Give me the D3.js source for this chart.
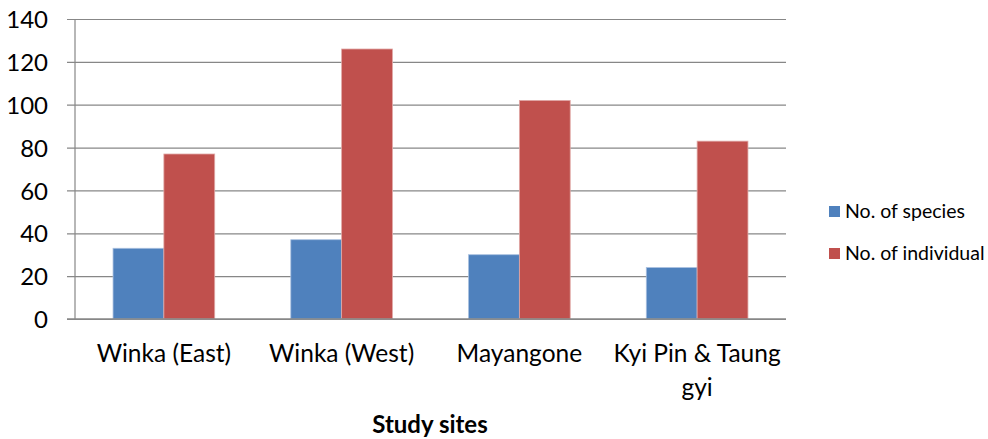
<!DOCTYPE html>
<html>
<head>
<meta charset="utf-8">
<script src="https://cdn.jsdelivr.net/npm/d3@7"></script>
<style>
  body { margin: 0; background: #fff; }
  svg text { font-family: Lato, "Open Sans", sans-serif; fill: #000; }
</style>
</head>
<body>
<svg></svg>
<script>
//Chart data
var sites = ["Winka (East)", "Winka (West)", "Mayangone", "Kyi Pin & Taung gyi"];
var siteLines = [["Winka (East)"], ["Winka (West)"], ["Mayangone"], ["Kyi Pin & Taung", "gyi"]];
var seriesNames = ["No. of species", "No. of individual"];
var species = [33, 37, 30, 24];
var individuals = [77, 126, 102, 83];
var yTicks = [0, 20, 40, 60, 80, 100, 120, 140];
var colors = ["#4F81BD", "#C0504D"];

//Canvas settings
var width = 988;
var height = 439;
var plotLeft = 75, plotRight = 786, plotTop = 19, plotBottom = 319;

var svg = d3.select("svg")
	.attr("width", width)
	.attr("height", height);

var x0 = d3.scaleBand()
	.domain(sites)
	.range([plotLeft, plotRight]);

var barW = x0.bandwidth() * 0.286;

var x1 = d3.scaleBand()
	.domain(seriesNames)
	.range([-barW, barW]);

var y = d3.scaleLinear()
	.domain([0, 140])
	.range([plotBottom, plotTop]);

//grid lines with short ticks on the left
var yAxis = d3.axisLeft(y)
	.tickValues(yTicks)
	.tickSize(-(plotRight - plotLeft))
	.tickSizeOuter(0)
	.tickPadding(27)
	.tickFormat(d3.format("d"));

var gy = svg.append("g")
	.attr("transform", "translate(" + plotLeft + ",0)")
	.call(yAxis);
gy.select(".domain").remove();
gy.selectAll(".tick line")
	.attr("x1", -8)
	.attr("stroke", "#878787")
	.attr("stroke-width", 1.2);
gy.selectAll(".tick text")
	.attr("font-size", "24px")
	.attr("dy", "0.36em");

//bars
var groups = svg.selectAll("g.site")
	.data(sites)
	.enter().append("g")
	.attr("class", "site")
	.attr("transform", function(d) { return "translate(" + (x0(d) + x0.bandwidth() / 2) + ",0)"; });

groups.selectAll("rect")
	.data(function(d, i) {
		return [
			{ s: seriesNames[0], v: species[i] },
			{ s: seriesNames[1], v: individuals[i] }
		];
	})
	.enter().append("rect")
	.attr("x", function(d) { return x1(d.s); })
	.attr("width", x1.bandwidth())
	.attr("y", function(d) { return y(d.v); })
	.attr("height", function(d) { return y(0) - y(d.v); })
	.attr("fill", function(d, i) { return colors[i]; })
	.attr("stroke", function(d, i) { return i == 0 ? "#a9c0df" : "#e0a9a7"; })
	.attr("stroke-width", 0.8);

//axis lines
svg.append("line")
	.attr("x1", plotLeft).attr("x2", plotLeft)
	.attr("y1", plotTop).attr("y2", plotBottom)
	.attr("stroke", "#878787").attr("stroke-width", 1.2);
svg.append("line")
	.attr("x1", plotLeft - 8).attr("x2", plotRight)
	.attr("y1", plotBottom).attr("y2", plotBottom)
	.attr("stroke", "#878787").attr("stroke-width", 1.5);

//category labels
groups.append("text")
	.attr("text-anchor", "middle")
	.attr("font-size", "24.5px")
	.selectAll("tspan")
	.data(function(d, i) { return siteLines[i]; })
	.enter().append("tspan")
	.attr("x", 0)
	.attr("y", function(d, i) { return 362 + i * 34; })
	.text(function(d) { return d; });

//axis title
svg.append("text")
	.attr("x", 430)
	.attr("y", 433)
	.attr("text-anchor", "middle")
	.attr("font-size", "24px")
	.attr("font-weight", "bold")
	.text("Study sites");

//legend
var legend = svg.selectAll("g.legend")
	.data(seriesNames)
	.enter().append("g")
	.attr("class", "legend")
	.attr("transform", function(d, i) { return "translate(829," + (206 + i * 42) + ")"; });

legend.append("rect")
	.attr("width", 11)
	.attr("height", 11)
	.attr("fill", function(d, i) { return colors[i]; });

legend.append("text")
	.attr("x", 16)
	.attr("y", 12)
	.attr("font-size", "19.5px")
	.text(function(d) { return d; });
</script>
</body>
</html>
